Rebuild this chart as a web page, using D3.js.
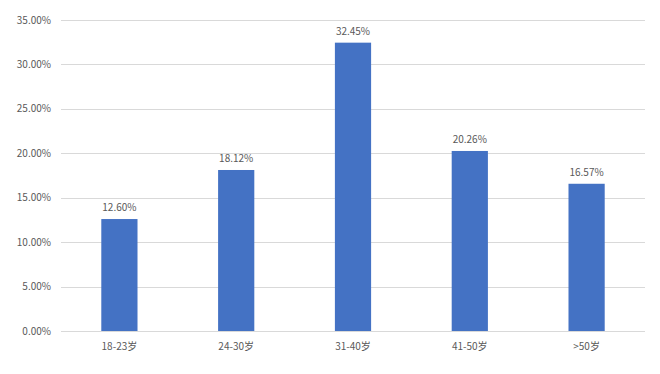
<!DOCTYPE html>
<html>
<head>
<meta charset="utf-8">
<script src="https://cdn.jsdelivr.net/npm/d3@7"></script>
<style>
  body { margin: 0; background: #fff; }
  text { font-family: "Noto Sans CJK SC", "Liberation Sans", sans-serif; fill: #595959; }
</style>
</head>
<body>
<script>
// data
var categories = ["18-23岁", "24-30岁", "31-40岁", "41-50岁", ">50岁"];
var values = [12.60, 18.12, 32.45, 20.26, 16.57];
var yTicks = [0, 5, 10, 15, 20, 25, 30, 35];

var width = 660, height = 374;
var margin = { top: 20, right: 15, bottom: 43, left: 61 };

var svg = d3.select("body").append("svg")
  .attr("width", width)
  .attr("height", height);

var x = d3.scaleBand()
  .domain(categories)
  .range([margin.left, width - margin.right])
  .paddingInner(0.69)
  .paddingOuter(0.345);

var y = d3.scaleLinear()
  .domain([0, 35])
  .range([height - margin.bottom, margin.top]);

// gridlines
svg.append("g").selectAll("line")
  .data(yTicks)
  .enter().append("line")
  .attr("x1", margin.left)
  .attr("x2", width - margin.right)
  .attr("y1", function(d) { return Math.round(y(d)) + 0.5; })
  .attr("y2", function(d) { return Math.round(y(d)) + 0.5; })
  .attr("stroke", "#d9d9d9")
  .attr("stroke-width", 1);

// y labels
svg.append("g").selectAll("text")
  .data(yTicks)
  .enter().append("text")
  .attr("x", margin.left - 10)
  .attr("y", function(d) { return y(d); })
  .attr("dy", "0.35em")
  .attr("text-anchor", "end")
  .style("font-size", "10px")
  .text(function(d) { return d.toFixed(2) + "%"; });

// bars
svg.append("g").selectAll("rect")
  .data(values)
  .enter().append("rect")
  .attr("x", function(d, i) { return x(categories[i]); })
  .attr("width", x.bandwidth())
  .attr("y", function(d) { return y(d); })
  .attr("height", function(d) { return y(0) - y(d); })
  .attr("fill", "#4472c4");

// value labels
svg.append("g").selectAll("text")
  .data(values)
  .enter().append("text")
  .attr("x", function(d, i) { return x(categories[i]) + x.bandwidth() / 2; })
  .attr("y", function(d) { return y(d) - 8; })
  .attr("text-anchor", "middle")
  .style("font-size", "10px")
  .text(function(d) { return d.toFixed(2) + "%"; });

// category labels
svg.append("g").selectAll("text")
  .data(categories)
  .enter().append("text")
  .attr("x", function(d) { return x(d) + x.bandwidth() / 2; })
  .attr("y", y(0) + 19)
  .attr("text-anchor", "middle")
  .style("font-size", "10px")
  .text(function(d) { return d; });
</script>
</body>
</html>
